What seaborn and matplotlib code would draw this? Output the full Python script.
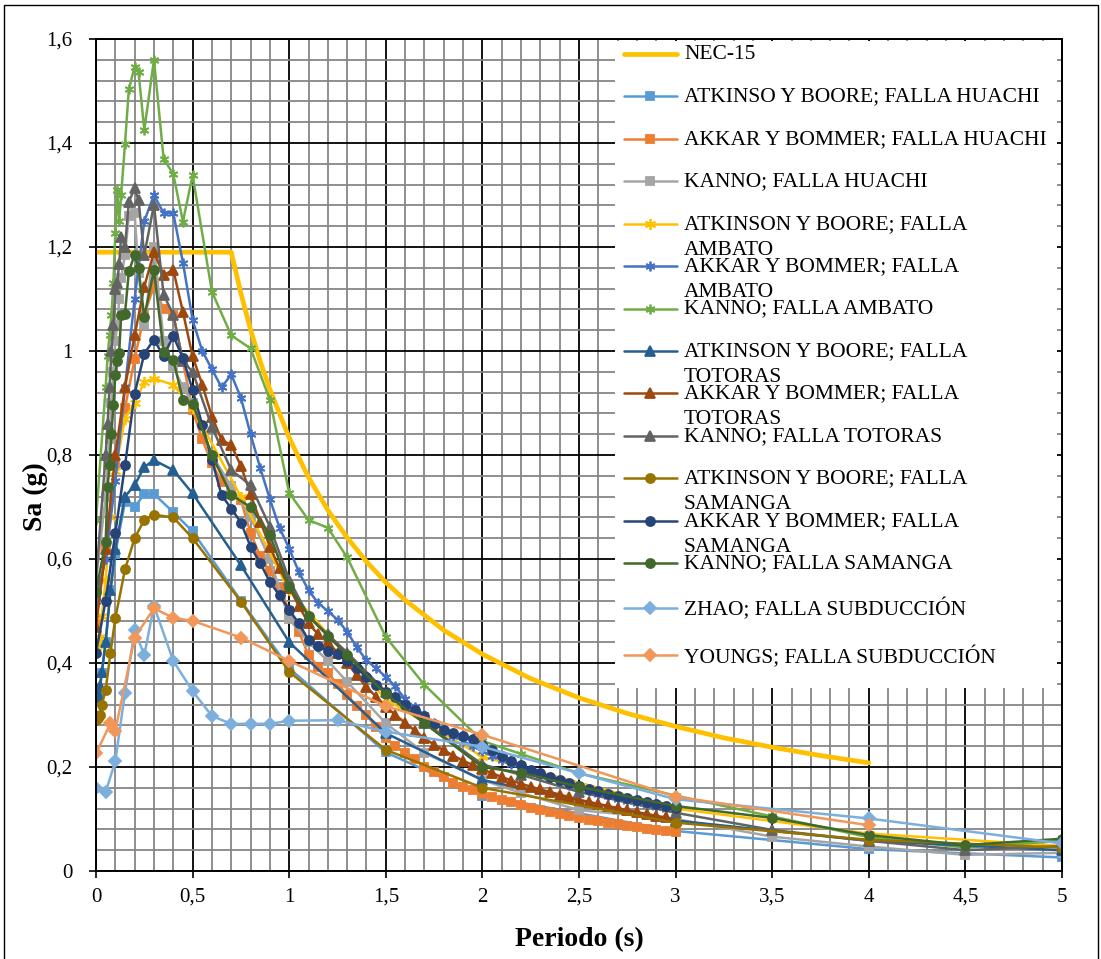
import matplotlib
matplotlib.use("Agg")
import matplotlib.pyplot as plt
from matplotlib.lines import Line2D
from matplotlib.patches import Rectangle
from matplotlib.ticker import MultipleLocator, FixedLocator, FixedFormatter
import seaborn as sns

# ---------------- data ----------------
T_NEC = [0, 0.7, 0.75, 0.8, 0.85, 0.9, 1.0, 1.1, 1.2, 1.3, 1.4, 1.5, 1.6, 1.8, 2.0,
         2.25, 2.5, 2.75, 3.0, 3.25, 3.5, 3.75, 4.0]
SA_NEC = [1.19, 1.19, 1.111, 1.041, 0.980, 0.926, 0.833, 0.757, 0.694, 0.641, 0.595,
          0.555, 0.521, 0.463, 0.417, 0.370, 0.333, 0.303, 0.278, 0.256, 0.238, 0.222, 0.208]

T_AB = [0, 0.01, 0.02, 0.03, 0.05, 0.075, 0.1, 0.15, 0.2, 0.25, 0.3, 0.4, 0.5, 0.75,
        1.0, 1.5, 2.0, 3.0, 4.0, 5.0]
AB_HUACHI = [0.33, 0.335, 0.345, 0.38, 0.44, 0.54, 0.61, 0.71, 0.70, 0.725, 0.725, 0.69,
             0.653, 0.52, 0.39, 0.228, 0.145, 0.077, 0.042, 0.026]
AB_AMBATO = [0.43, 0.435, 0.45, 0.49, 0.56, 0.68, 0.77, 0.87, 0.90, 0.94, 0.947, 0.935,
             0.89, 0.72, 0.54, 0.33, 0.22, 0.12, 0.072, 0.048]
AB_TOTORAS = [0.335, 0.34, 0.355, 0.383, 0.44, 0.54, 0.62, 0.72, 0.742, 0.777, 0.79, 0.771,
              0.726, 0.588, 0.44, 0.265, 0.175, 0.097, 0.058, 0.04]
AB_SAMANGA = [0.29, 0.295, 0.30, 0.32, 0.348, 0.42, 0.486, 0.58, 0.64, 0.675, 0.685, 0.68,
              0.64, 0.518, 0.383, 0.233, 0.16, 0.093, 0.06, 0.045]

T_AKB = [0.00, 0.05, 0.10, 0.15, 0.20, 0.25, 0.30, 0.35, 0.40, 0.45, 0.50, 0.55, 0.60,
         0.65, 0.70, 0.75, 0.80, 0.85, 0.90, 0.95, 1.00, 1.05, 1.10, 1.15, 1.20, 1.25,
         1.30, 1.35, 1.40, 1.45, 1.50, 1.55, 1.60, 1.65, 1.70, 1.75, 1.80, 1.85, 1.90,
         1.95, 2.00, 2.05, 2.10, 2.15, 2.20, 2.25, 2.30, 2.35, 2.40, 2.45, 2.50, 2.55,
         2.60, 2.65, 2.70, 2.75, 2.80, 2.85, 2.90, 2.95, 3.00]
AKB_HUACHI = [0.48, 0.62, 0.78, 0.89, 0.985, 1.07, 1.125, 1.08, 1.07, 0.98, 0.887, 0.83,
              0.784, 0.749, 0.735, 0.713, 0.65, 0.605, 0.576, 0.547, 0.50, 0.46, 0.415,
              0.393, 0.38, 0.36, 0.338, 0.317, 0.30, 0.277, 0.255, 0.24, 0.227, 0.215,
              0.20, 0.19, 0.18, 0.17, 0.162, 0.155, 0.148, 0.142, 0.137, 0.132, 0.127,
              0.122, 0.118, 0.114, 0.11, 0.106, 0.102, 0.099, 0.096, 0.093, 0.09, 0.087,
              0.084, 0.081, 0.079, 0.077, 0.075]
AKB_AMBATO = [0.52, 0.60, 0.75, 0.93, 1.10, 1.25, 1.30, 1.265, 1.265, 1.17, 1.06, 1.0,
              0.965, 0.93, 0.955, 0.91, 0.84, 0.775, 0.715, 0.66, 0.62, 0.575, 0.54,
              0.515, 0.50, 0.483, 0.46, 0.43, 0.405, 0.39, 0.373, 0.355, 0.33, 0.315,
              0.30, 0.285, 0.27, 0.26, 0.25, 0.24, 0.23, 0.222, 0.214, 0.206, 0.199,
              0.192, 0.185, 0.178, 0.171, 0.165, 0.159, 0.154, 0.149, 0.144, 0.139,
              0.135, 0.131, 0.127, 0.123, 0.119, 0.115]
AKB_TOTORAS = [0.47, 0.62, 0.80, 0.93, 1.03, 1.124, 1.19, 1.146, 1.156, 1.075, 0.99,
               0.935, 0.874, 0.829, 0.819, 0.779, 0.725, 0.672, 0.624, 0.582, 0.545,
               0.51, 0.476, 0.455, 0.44, 0.42, 0.40, 0.376, 0.354, 0.335, 0.316, 0.30,
               0.285, 0.27, 0.255, 0.243, 0.232, 0.222, 0.212, 0.204, 0.196, 0.188,
               0.181, 0.174, 0.168, 0.162, 0.157, 0.152, 0.147, 0.142, 0.137, 0.133,
               0.129, 0.125, 0.121, 0.117, 0.113, 0.11, 0.106, 0.103, 0.099]
AKB_SAMANGA = [0.42, 0.52, 0.65, 0.78, 0.918, 0.995, 1.022, 0.99, 1.029, 0.986, 0.925,
               0.858, 0.79, 0.723, 0.697, 0.67, 0.624, 0.592, 0.556, 0.53, 0.502, 0.476,
               0.444, 0.432, 0.424, 0.418, 0.404, 0.39, 0.373, 0.358, 0.345, 0.335,
               0.32, 0.31, 0.298, 0.283, 0.272, 0.266, 0.26, 0.253, 0.243, 0.232,
               0.222, 0.212, 0.203, 0.195, 0.188, 0.181, 0.175, 0.169, 0.163, 0.158,
               0.153, 0.148, 0.144, 0.14, 0.136, 0.132, 0.128, 0.125, 0.122]

T_KANNO = [0, 0.05, 0.06, 0.07, 0.08, 0.09, 0.1, 0.11, 0.12, 0.13, 0.15, 0.17, 0.2,
           0.22, 0.25, 0.3, 0.35, 0.4, 0.45, 0.5, 0.6, 0.7, 0.8, 0.9, 1.0, 1.1, 1.2,
           1.3, 1.5, 1.7, 2.0, 2.2, 2.5, 3.0, 3.5, 4.0, 4.5, 5.0]
KANNO_HUACHI = [0.56, 0.72, 0.78, 0.83, 0.90, 0.96, 1.02, 1.05, 1.10, 1.14, 1.185, 1.26,
                1.265, 1.15, 1.05, 1.20, 1.02, 0.97, 0.93, 0.90, 0.80, 0.74, 0.68, 0.60,
                0.484, 0.44, 0.404, 0.364, 0.284, 0.227, 0.175, 0.15, 0.117, 0.10,
                0.066, 0.047, 0.031, 0.035]
KANNO_AMBATO = [0.675, 0.93, 0.99, 1.03, 1.07, 1.13, 1.226, 1.31, 1.25, 1.30, 1.398,
                1.503, 1.547, 1.537, 1.425, 1.56, 1.37, 1.34, 1.249, 1.338, 1.114, 1.03,
                1.005, 0.906, 0.727, 0.675, 0.66, 0.603, 0.45, 0.358, 0.25, 0.225, 0.188,
                0.145, 0.105, 0.065, 0.045, 0.058]
KANNO_TOTORAS = [0.56, 0.80, 0.86, 0.93, 1.0, 1.05, 1.12, 1.13, 1.168, 1.22, 1.20, 1.287,
                 1.313, 1.29, 1.185, 1.281, 1.108, 1.07, 0.98, 0.96, 0.854, 0.771, 0.742,
                 0.662, 0.56, 0.49, 0.455, 0.42, 0.345, 0.285, 0.205, 0.185, 0.152, 0.112,
                 0.079, 0.058, 0.04, 0.048]
KANNO_SAMANGA = [0.537, 0.633, 0.739, 0.78, 0.84, 0.896, 0.954, 0.98, 0.996, 1.07, 1.072,
                 1.153, 1.185, 1.159, 1.065, 1.156, 0.999, 0.983, 0.906, 0.899, 0.80,
                 0.723, 0.70, 0.646, 0.547, 0.49, 0.452, 0.415, 0.34, 0.284, 0.20, 0.189,
                 0.162, 0.125, 0.102, 0.069, 0.05, 0.062]

T_ZHAO = [0, 0.05, 0.1, 0.15, 0.2, 0.25, 0.3, 0.4, 0.5, 0.6, 0.7, 0.8, 0.9, 1.0, 1.25,
          1.5, 2.0, 2.5, 3.0, 4.0, 5.0]
ZHAO = [0.159, 0.152, 0.211, 0.343, 0.463, 0.415, 0.51, 0.404, 0.346, 0.298, 0.283,
        0.283, 0.283, 0.289, 0.29, 0.268, 0.239, 0.188, 0.138, 0.101, 0.053]

T_YOUNGS = [0, 0.075, 0.1, 0.2, 0.3, 0.4, 0.5, 0.75, 1.0, 1.5, 2.0, 3.0, 4.0]
YOUNGS = [0.226, 0.284, 0.27, 0.449, 0.505, 0.487, 0.481, 0.449, 0.404, 0.317, 0.262,
          0.143, 0.088]

LABELS = [
    ["NEC-15"],
    ["ATKINSO Y BOORE; FALLA HUACHI"],
    ["AKKAR Y BOMMER; FALLA HUACHI"],
    ["KANNO; FALLA HUACHI"],
    ["ATKINSON Y BOORE; FALLA", "AMBATO"],
    ["AKKAR Y BOMMER; FALLA", "AMBATO"],
    ["KANNO; FALLA AMBATO"],
    ["ATKINSON Y BOORE; FALLA", "TOTORAS"],
    ["AKKAR Y BOMMER; FALLA", "TOTORAS"],
    ["KANNO; FALLA TOTORAS"],
    ["ATKINSON Y BOORE; FALLA", "SAMANGA"],
    ["AKKAR Y BOMMER; FALLA", "SAMANGA"],
    ["KANNO; FALLA SAMANGA"],
    ["ZHAO; FALLA SUBDUCCIÓN"],
    ["YOUNGS; FALLA SUBDUCCIÓN"],
]

XTICKS = [0, 0.5, 1, 1.5, 2, 2.5, 3, 3.5, 4, 4.5, 5]
XTICK_LABELS = ["0", "0,5", "1", "1,5", "2", "2,5", "3", "3,5", "4", "4,5", "5"]
YTICKS = [0, 0.2, 0.4, 0.6, 0.8, 1.0, 1.2, 1.4, 1.6]
YTICK_LABELS = ["0", "0,2", "0,4", "0,6", "0,8", "1", "1,2", "1,4", "1,6"]

# ---------------- styles ----------------
STAR = (6, 2, 0)
SERIES = [
    (T_NEC, SA_NEC, "#FFC000", None, 0),
    (T_AB, AB_HUACHI, "#5B9BD5", "s", 6),
    (T_AKB, AKB_HUACHI, "#ED7D31", "s", 6),
    (T_KANNO, KANNO_HUACHI, "#A5A5A5", "s", 6),
    (T_AB, AB_AMBATO, "#FFC000", STAR, 8),
    (T_AKB, AKB_AMBATO, "#4472C4", STAR, 7),
    (T_KANNO, KANNO_AMBATO, "#70AD47", STAR, 7),
    (T_AB, AB_TOTORAS, "#255E91", "^", 6.5),
    (T_AKB, AKB_TOTORAS, "#9E480E", "^", 6.5),
    (T_KANNO, KANNO_TOTORAS, "#636363", "^", 6.5),
    (T_AB, AB_SAMANGA, "#997300", "o", 6.5),
    (T_AKB, AKB_SAMANGA, "#264478", "o", 6.5),
    (T_KANNO, KANNO_SAMANGA, "#43682B", "o", 6.5),
    (T_ZHAO, ZHAO, "#7CAFDD", "D", 6.5),
    (T_YOUNGS, YOUNGS, "#F1975A", "D", 6.5),
]

sns.set_theme(style="white")
plt.rcParams['font.family'] = ['Liberation Serif', 'DejaVu Serif']

fig = plt.figure(figsize=(11.01, 9.59), dpi=100)
ax = fig.add_axes([96 / 1101, 1 - 871 / 959, 966 / 1101, 832 / 959])

handles = []
for i, (tx, sy, col, mk, ms) in enumerate(SERIES):
    if mk is None:
        sns.lineplot(x=tx, y=sy, ax=ax, color=col, linewidth=3.4, estimator=None,
                     sort=False, legend=False)
        handles.append(Line2D([], [], color=col, linewidth=3.4))
    else:
        sns.lineplot(x=tx, y=sy, ax=ax, color=col, linewidth=1.8, marker=mk,
                     markersize=ms, markeredgecolor=col, markerfacecolor=col,
                     markeredgewidth=1.3, estimator=None, sort=False, legend=False)
        handles.append(Line2D([], [], color=col, linewidth=1.8, marker=mk,
                              markersize=ms, markeredgecolor=col, markerfacecolor=col,
                              markeredgewidth=1.3))

ax.set_xlim(0, 5)
ax.set_ylim(0, 1.6)
ax.xaxis.set_major_locator(FixedLocator(XTICKS))
ax.xaxis.set_major_formatter(FixedFormatter(XTICK_LABELS))
ax.yaxis.set_major_locator(FixedLocator(YTICKS))
ax.yaxis.set_major_formatter(FixedFormatter(YTICK_LABELS))
ax.xaxis.set_minor_locator(MultipleLocator(0.1))
ax.yaxis.set_minor_locator(MultipleLocator(0.04))
ax.set_axisbelow(True)
ax.grid(which="minor", color="#868686", linewidth=1.3)
ax.grid(which="major", color="black", linewidth=1.3)
ax.tick_params(axis="both", which="major", direction="out", length=5, width=1.2,
               color="black", labelsize=15, labelcolor="black")
ax.tick_params(axis="x", which="major", pad=7, bottom=True)
ax.tick_params(axis="y", which="major", pad=12, left=True)
ax.tick_params(which="minor", length=0)
for s in ax.spines.values():
    s.set_color("black")
    s.set_linewidth(1.4)

ax.set_xlabel("Periodo (s)", fontsize=20, fontweight="bold", color="black")
ax.set_ylabel("Sa (g)", fontsize=20, fontweight="bold", color="black")
ax.xaxis.set_label_coords(0.5, -0.068)
ax.yaxis.set_label_coords(-0.05, 0.45)

# white legend background
ax.add_patch(Rectangle((0.537, 0.22), 0.458, 0.777, transform=ax.transAxes,
                       facecolor="white", edgecolor="none", zorder=4))

labels3 = ["\n" + lab[0] + "\n" + (lab[1] if len(lab) > 1 else "") for lab in LABELS]
leg = ax.legend(handles, labels3, loc="center left", bbox_to_anchor=(0.5466, 0.6184),
                frameon=False, fontsize=15.5, handlelength=2.46, handletextpad=0.33,
                borderpad=0, borderaxespad=0, labelspacing=-1.327)
leg.set_zorder(5)
for t in leg.get_texts():
    t.set_linespacing(1.50)
    t.set_color("black")

fig.add_artist(Rectangle((4 / 1101, -0.01), 1094 / 1101, 1.005, transform=fig.transFigure,
                         fill=False, edgecolor="black", linewidth=1.0))

fig.savefig("out.png", dpi=100)
